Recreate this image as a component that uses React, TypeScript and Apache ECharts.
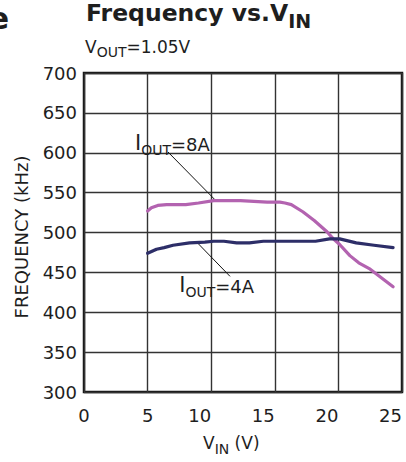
import React, { useEffect, useRef } from "react";
import * as echarts from "echarts";

const vin8A = [5, 5.3, 5.8, 6.5, 8, 9, 10.2, 12.3, 14.4, 15.4, 15.8, 16.3, 17.2, 18.1, 19.1, 19.6, 20.1, 20.9, 21.6, 22.5, 23.4, 24.3];
const freq8A = [527, 531, 534, 535, 535, 537, 540, 540, 538, 538, 537, 535, 526, 515, 501, 492, 485, 471, 462, 454, 443, 432];
const vin4A = [5, 5.7, 6.3, 7, 8.3, 9.5, 10.2, 11, 12, 13, 14.1, 15, 16.2, 17, 18.2, 19.3, 20.1, 21.4, 22.8, 24.3];
const freq4A = [474, 479, 481, 484, 487, 488, 489, 489, 487, 487, 489, 489, 489, 489, 489, 492, 492, 487, 484, 481];
const xTickValues = [0, 5, 10, 15, 20, 25];
const yTickValues = [300, 350, 400, 450, 500, 550, 600, 650, 700];
const leader8A = [[6.6, 601], [10.3, 541]];
const leader4A = [[8.86, 488], [11.48, 445]];
const label8AAnchor = [4.01, 620.6];
const label4AAnchor = [7.49, 442.7];

const FONT = "DejaVu Sans";
const PINK = "#B363B0";
const NAVY = "#2D2E68";
const TEXT = "#1e1e1e";

function subRich(F: number, fs: number, d: number, bold: boolean) {
  const w = bold ? "bold" : "normal";
  return {
    m: { fontFamily: FONT, fontSize: F, lineHeight: F, fontWeight: w, fill: TEXT, color: TEXT, padding: [0, 0, d, 0], verticalAlign: "bottom" },
    b: { fontFamily: FONT, fontSize: F + 3, lineHeight: F + 3, fontWeight: w, fill: TEXT, color: TEXT, padding: [0, 0, d, 0], verticalAlign: "bottom" },
    s: { fontFamily: FONT, fontSize: fs, lineHeight: fs, fontWeight: w, fill: TEXT, color: TEXT, verticalAlign: "bottom" },
  };
}

export default function App() {
  const ref = useRef<HTMLDivElement>(null);
  useEffect(() => {
    if (!ref.current) return;
    const chart = echarts.init(ref.current, undefined, { renderer: "svg" });
    const xStep = xTickValues[1] - xTickValues[0];
    const yStep = yTickValues[1] - yTickValues[0];
    chart.setOption({
      animation: false,
      backgroundColor: "#ffffff",
      grid: {
        left: 84, right: 4, top: 73, bottom: 70,
        show: true, borderColor: "#161616", borderWidth: 2.5, backgroundColor: "transparent",
      },
      xAxis: {
        type: "value",
        min: xTickValues[0], max: xTickValues[xTickValues.length - 1], interval: xStep,
        axisLine: { show: false }, axisTick: { show: false },
        splitLine: { show: true, lineStyle: { color: "#333333", width: 1.4 } },
        axisLabel: {
          margin: 14, color: TEXT, fontFamily: FONT, fontSize: 18,
          formatter: (v: number) => (v >= 10 ? `{d|${v}}` : `{c|${v}}`),
          rich: {
            d: { fontFamily: FONT, fontSize: 18, color: TEXT, padding: [0, 23, 0, 0] },
            c: { fontFamily: FONT, fontSize: 18, color: TEXT },
          },
        },
      },
      yAxis: {
        type: "value",
        min: yTickValues[0], max: yTickValues[yTickValues.length - 1], interval: yStep,
        axisLine: { show: false }, axisTick: { show: false },
        splitLine: { show: true, lineStyle: { color: "#333333", width: 1.4 } },
        axisLabel: { margin: 7, color: TEXT, fontFamily: FONT, fontSize: 18, padding: [0, 0, 5, 0] },
      },
      series: [
        {
          type: "line", data: leader8A, symbol: "none", silent: true, z: 1,
          lineStyle: { color: "#111", width: 1 },
        },
        {
          type: "line", data: leader4A, symbol: "none", silent: true, z: 1,
          lineStyle: { color: "#111", width: 1 },
        },
        {
          type: "line", name: "IOUT=8A", data: vin8A.map((v, i) => [v, freq8A[i]]),
          symbol: "none", z: 3, lineStyle: { color: PINK, width: 3.2, join: "round", cap: "round" },
        },
        {
          type: "line", name: "IOUT=4A", data: vin4A.map((v, i) => [v, freq4A[i]]),
          symbol: "none", z: 3, lineStyle: { color: NAVY, width: 3.2, join: "round", cap: "round" },
        },
      ],
    });

    const p8 = chart.convertToPixel({ gridIndex: 0 }, label8AAnchor) as number[];
    const p4 = chart.convertToPixel({ gridIndex: 0 }, label4AAnchor) as number[];

    chart.setOption({
      graphic: [
        {
          type: "text", x: 9, y: 18.5,
          style: { text: "e", fontFamily: FONT, fontSize: 30, fontWeight: "bold", fill: TEXT, align: "right", verticalAlign: "middle" },
        },
        {
          type: "text", x: 86, y: 7,
          style: { text: "{m|Frequency vs.V}{s|IN}", rich: subRich(23.5, 19, 5.75, true), align: "left", verticalAlign: "top" },
        },
        {
          type: "text", x: 85, y: 41.5,
          style: { text: "{m|V}{s|OUT}{m|=1.05V}", rich: subRich(17, 14, 3.5, false), align: "left", verticalAlign: "top" },
        },
        {
          type: "text", x: 21.5, y: 237, rotation: Math.PI / 2,
          style: { text: "FREQUENCY (kHz)", fontFamily: FONT, fontSize: 18, fill: TEXT, align: "center", verticalAlign: "middle" },
        },
        {
          type: "text", x: 203, y: 438.5,
          style: { text: "{m|V}{s|IN}{m| (V)}", rich: subRich(17, 14, 4, false), align: "left", verticalAlign: "top" },
        },
        {
          type: "text", x: p8[0], y: p8[1],
          style: { text: "{b|I}{s|OUT}{m|=8A}", rich: subRich(18, 14, 4, false), align: "left", verticalAlign: "top" },
        },
        {
          type: "text", x: p4[0], y: p4[1],
          style: { text: "{b|I}{s|OUT}{m|=4A}", rich: subRich(18, 14, 4, false), align: "left", verticalAlign: "top" },
        },
      ],
    });

    return () => chart.dispose();
  }, []);
  return (
    <div
      ref={ref}
      style={{ position: "fixed", left: 0, top: 0, width: 406, height: 462, background: "#fff" }}
    />
  );
}
